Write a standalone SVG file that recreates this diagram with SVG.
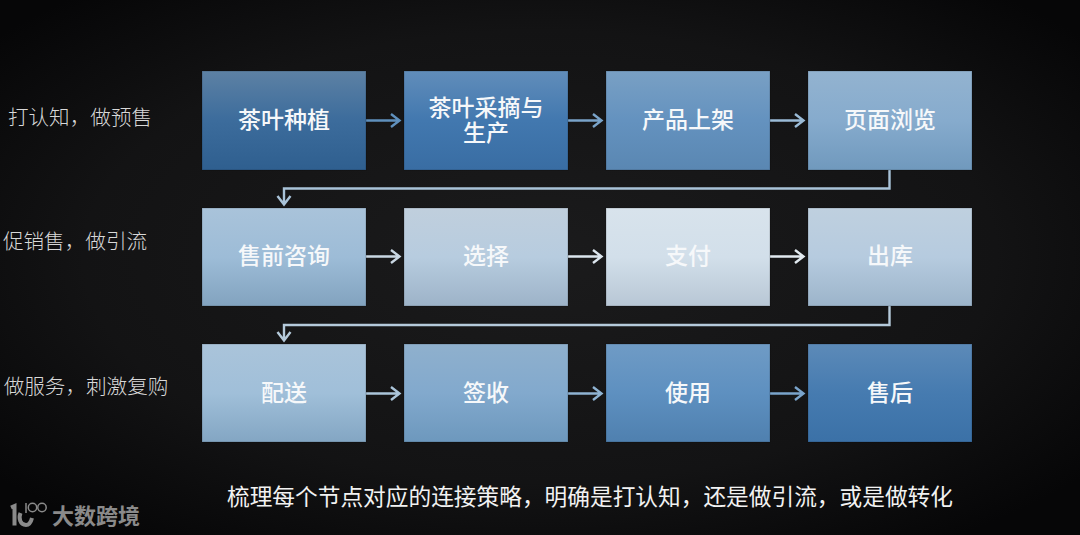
<svg xmlns="http://www.w3.org/2000/svg" width="1080" height="535" viewBox="0 0 1080 535">
<style>
text{font-family:"Noto Sans CJK SC","Noto Sans",sans-serif;fill:#f6f8fa;text-anchor:middle}
.n{font-size:23px;font-weight:500}
.l{font-size:20.6px;fill:#d8d8d8;font-weight:300}
.c{fill:none;stroke-width:2.4}
rect{stroke:#000;stroke-opacity:.2;stroke-width:1}
</style>
<defs>
<radialGradient id="bg" cx="50%" cy="48%" r="65%"><stop offset="0" stop-color="#1b1b1c"/><stop offset=".65" stop-color="#131314"/><stop offset="1" stop-color="#060607"/></radialGradient>
<linearGradient id="g1" x1="0" y1="0" x2="0" y2="1"><stop offset="0" stop-color="#5d81a4"/><stop offset=".5" stop-color="#3c6c9c"/><stop offset="1" stop-color="#2f5f8f"/></linearGradient>
<linearGradient id="g2" x1="0" y1="0" x2="0" y2="1"><stop offset="0" stop-color="#618dba"/><stop offset=".5" stop-color="#4278af"/><stop offset="1" stop-color="#396da3"/></linearGradient>
<linearGradient id="g3" x1="0" y1="0" x2="0" y2="1"><stop offset="0" stop-color="#79a0c4"/><stop offset=".5" stop-color="#6492bf"/><stop offset="1" stop-color="#5a87b2"/></linearGradient>
<linearGradient id="g4" x1="0" y1="0" x2="0" y2="1"><stop offset="0" stop-color="#93b3d0"/><stop offset=".5" stop-color="#86abcd"/><stop offset="1" stop-color="#7099bd"/></linearGradient>
<linearGradient id="g5" x1="0" y1="0" x2="0" y2="1"><stop offset="0" stop-color="#a9c3da"/><stop offset=".5" stop-color="#9dbcd7"/><stop offset="1" stop-color="#82a3bf"/></linearGradient>
<linearGradient id="g6" x1="0" y1="0" x2="0" y2="1"><stop offset="0" stop-color="#c0cfdd"/><stop offset=".5" stop-color="#b7ccdf"/><stop offset="1" stop-color="#9db3c8"/></linearGradient>
<linearGradient id="g7" x1="0" y1="0" x2="0" y2="1"><stop offset="0" stop-color="#d8e3ec"/><stop offset=".5" stop-color="#d2dfea"/><stop offset="1" stop-color="#b8c7d5"/></linearGradient>
<linearGradient id="g8" x1="0" y1="0" x2="0" y2="1"><stop offset="0" stop-color="#bfd0df"/><stop offset=".5" stop-color="#b6cbdf"/><stop offset="1" stop-color="#9cb4ca"/></linearGradient>
<linearGradient id="g9" x1="0" y1="0" x2="0" y2="1"><stop offset="0" stop-color="#aac4da"/><stop offset=".5" stop-color="#a0bfd9"/><stop offset="1" stop-color="#83a6c3"/></linearGradient>
<linearGradient id="g10" x1="0" y1="0" x2="0" y2="1"><stop offset="0" stop-color="#8fb0cd"/><stop offset=".5" stop-color="#82a9cd"/><stop offset="1" stop-color="#6d98bd"/></linearGradient>
<linearGradient id="g11" x1="0" y1="0" x2="0" y2="1"><stop offset="0" stop-color="#6f9bc5"/><stop offset=".5" stop-color="#5e90c0"/><stop offset="1" stop-color="#4f80af"/></linearGradient>
<linearGradient id="g12" x1="0" y1="0" x2="0" y2="1"><stop offset="0" stop-color="#5c8ab8"/><stop offset=".5" stop-color="#467bb0"/><stop offset="1" stop-color="#3b71a7"/></linearGradient>
</defs>
<rect id="background" x="0" y="0" width="1080" height="535" fill="url(#bg)" style="stroke:none"/>

<g id="connectors">
<path class="c" stroke="#5f90bd" d="M366 120.500H399M391 114L399.500 120.500L391 127"/>
<path class="c" stroke="#79a3c9" d="M568 120.500H601M593 114L601.500 120.500L593 127"/>
<path class="c" stroke="#9abbd7" d="M770 120.500H803M795 114L803.500 120.500L795 127"/>
<path class="c" stroke="#a9c3d9" d="M889.500 170V188.500H284V203M277.500 196L284 204.500L290.500 196"/>
<path class="c" stroke="#c9d7e3" d="M366 256.500H399M391 250L399.500 256.500L391 263"/>
<path class="c" stroke="#dce6ee" d="M568 256.500H601M593 250L601.500 256.500L593 263"/>
<path class="c" stroke="#e2eaf0" d="M770 256.500H803M795 250L803.500 256.500L795 263"/>
<path class="c" stroke="#b5cadb" d="M889.500 306V325H284V339M277.500 332L284 340.500L290.500 332"/>
<path class="c" stroke="#abc5da" d="M366 393.500H399M391 387L399.500 393.500L391 400"/>
<path class="c" stroke="#8fb3d2" d="M568 393.500H601M593 387L601.500 393.500L593 400"/>
<path class="c" stroke="#7aa4cb" d="M770 393.500H803M795 387L803.500 393.500L795 400"/>
</g>

<g id="n1"><rect x="202" y="71" width="164" height="99" fill="url(#g1)"/><text class="n" x="284" y="128">茶叶种植</text></g>
<g id="n2"><rect x="404" y="71" width="164" height="99" fill="url(#g2)"/><text class="n" x="486" y="116"><tspan x="486">茶叶采摘与</tspan><tspan x="486" dy="25">生产</tspan></text></g>
<g id="n3"><rect x="606" y="71" width="164" height="99" fill="url(#g3)"/><text class="n" x="688" y="128">产品上架</text></g>
<g id="n4"><rect x="808" y="71" width="164" height="99" fill="url(#g4)"/><text class="n" x="890" y="128">页面浏览</text></g>
<g id="n5"><rect x="202" y="208" width="164" height="98" fill="url(#g5)"/><text class="n" x="284" y="264">售前咨询</text></g>
<g id="n6"><rect x="404" y="208" width="164" height="98" fill="url(#g6)"/><text class="n" x="486" y="264">选择</text></g>
<g id="n7"><rect x="606" y="208" width="164" height="98" fill="url(#g7)"/><text class="n" x="688" y="264">支付</text></g>
<g id="n8"><rect x="808" y="208" width="164" height="98" fill="url(#g8)"/><text class="n" x="890" y="264">出库</text></g>
<g id="n9"><rect x="202" y="344" width="164" height="98" fill="url(#g9)"/><text class="n" x="284" y="401">配送</text></g>
<g id="n10"><rect x="404" y="344" width="164" height="98" fill="url(#g10)"/><text class="n" x="486" y="401">签收</text></g>
<g id="n11"><rect x="606" y="344" width="164" height="98" fill="url(#g11)"/><text class="n" x="688" y="401">使用</text></g>
<g id="n12"><rect x="808" y="344" width="164" height="98" fill="url(#g12)"/><text class="n" x="890" y="401">售后</text></g>

<g id="row-labels">
<text class="l" x="80" y="125">打认知，做预售</text>
<text class="l" x="75" y="249">促销售，做引流</text>
<text class="l" x="86" y="394">做服务，刺激复购</text>
</g>
<text id="caption" x="590" y="505" font-size="22.700" font-weight="400" style="fill:#f2f2f2">梳理每个节点对应的连接策略，明确是打认知，还是做引流，或是做转化</text>

<g id="logo" fill="none" stroke="#8a8a8a">
<path d="M11 507.500L14.500 506V525.500" stroke-width="4"/>
<path d="M20.500 513C18.500 518 20 525 26 525C29 525 31 522 32 518" stroke-width="4"/>
<path d="M26 503V513" stroke-width="1.500"/>
<circle cx="32.500" cy="507.500" r="4.200" stroke-width="1.500"/>
<circle cx="42" cy="507.500" r="4.200" stroke-width="1.500"/>
<text x="96" y="524" font-size="22" font-weight="700" stroke="none" style="fill:#8a8a8a">大数跨境</text>
</g>
</svg>
